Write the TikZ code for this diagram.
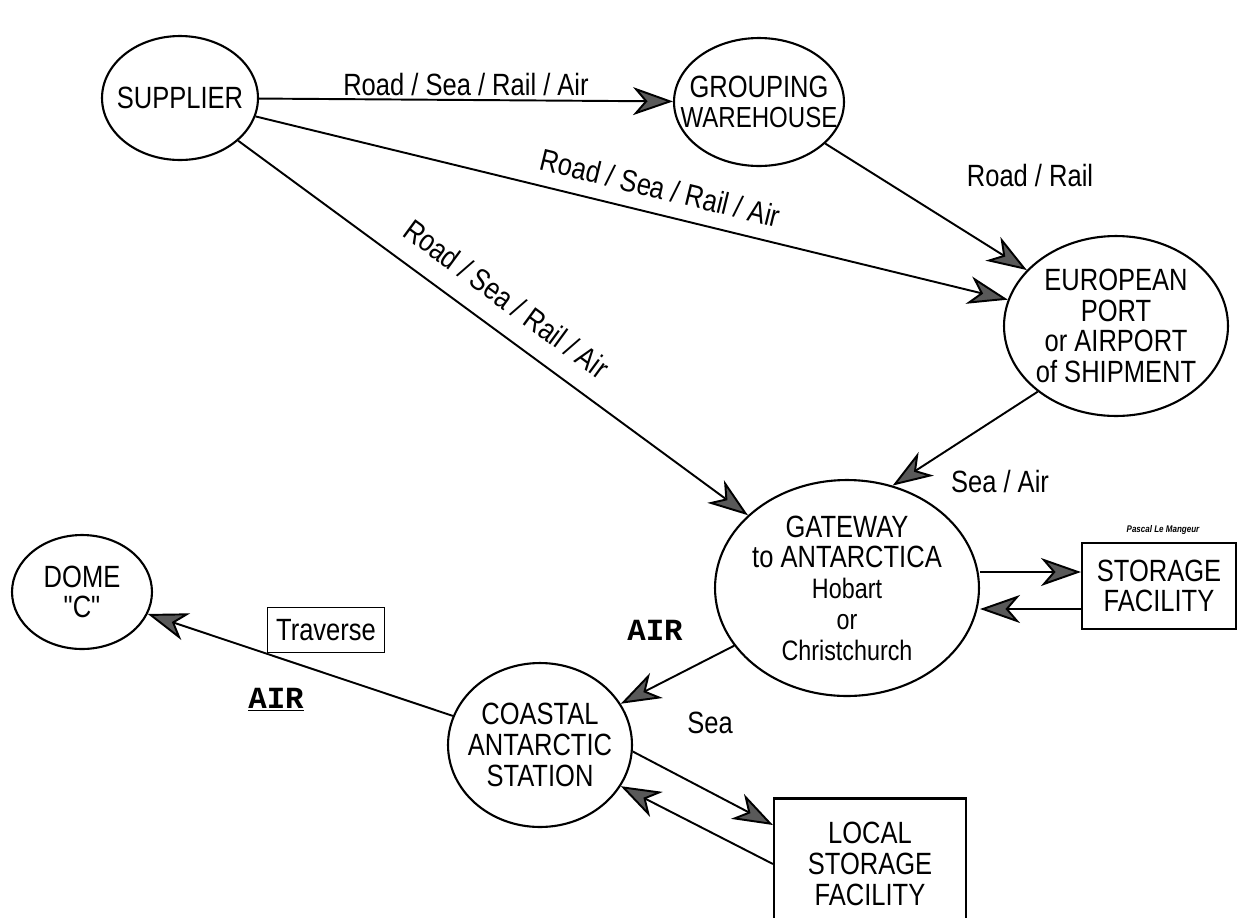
\documentclass[tikz,border=0pt]{standalone}
\usepackage{fontspec}
\setmainfont{Liberation Sans}[FakeStretch=0.83]
\setmonofont{Liberation Mono}
\usetikzlibrary{arrows.meta, shapes.geometric}
\newcommand{\lblsize}{\fontsize{17.5}{17.5}\selectfont}
\newcommand{\smsize}{\fontsize{16}{16}\selectfont}

\begin{document}
\begin{tikzpicture}[
  x=0.02cm, y=-0.02cm,
  place/.style={ellipse, draw=black, line width=1.2pt, inner sep=-0.8cm,
                align=center, font=\lblsize},
  store/.style={rectangle, draw=black, line width=1.2pt, align=center,
                font=\lblsize},
  lbl/.style={font=\lblsize, inner sep=2pt},
  code/.style={font=\ttfamily\bfseries\lblsize, inner sep=1pt},
  arr/.style={-{Stealth[length=0.8cm, width=0.56cm, inset=0.24cm, fill=black!65]},
              line width=1.1pt},
]
\useasboundingbox (0,0) rectangle (1238,917);
\clip (0,0) rectangle (1238,917);

% places
\node[place, minimum width=3.12cm, minimum height=2.48cm] (sup) at (180,98) {SUPPLIER};
\node[place, minimum width=3.4cm, minimum height=2.56cm] (grp) at (759,102)
     {GROUPING\\{\fontsize{16.5}{16.5}\selectfont WAREHOUSE}};
\node[place, minimum width=4.48cm, minimum height=3.6cm] (eur) at (1116,326)
     {EUROPEAN\\PORT\\or AIRPORT\\of SHIPMENT};
\node[place, minimum width=5.28cm, minimum height=4.32cm] (gw) at (847,588)
     {GATEWAY\\to ANTARCTICA\\{\smsize Hobart}\\{\smsize or}\\{\smsize Christchurch}};
\node[place, minimum width=3.68cm, minimum height=3.28cm] (coast) at (540,745)
     {COASTAL\\ANTARCTIC\\STATION};
\node[place, minimum width=2.8cm, minimum height=2.28cm] (dome) at (82,592)
     {DOME\\{\addfontfeatures{Ligatures=TeXOff}"C"}};

% storage
\node[store, minimum width=3.08cm, minimum height=1.72cm] (stor) at (1159,586) {STORAGE\\FACILITY};
\node[store, minimum width=3.84cm, minimum height=2.62cm] (loc) at (870,864)
     {LOCAL\\STORAGE\\FACILITY};
\node[font=\fontsize{5.5}{5.5}\selectfont\bfseries\itshape] (sig) at (1163,530) {Pascal Le Mangeur};

% routes
\draw[arr] (sup) -- node[lbl, above] (lsg) {Road / Sea / Rail / Air} (grp);
\draw[arr] (sup) -- node[lbl, sloped, above=6pt, pos=0.53] (lse) {Road / Sea / Rail / Air} (eur);
\draw[arr] (sup) -- node[lbl, sloped, above=9pt, pos=0.49] (lsw) {Road / Sea / Rail / Air} (gw);
\draw[arr] (grp) -- (eur);
\node[lbl] (lrr) at (1030,176) {Road / Rail};
\draw[arr] (eur.220) -- (gw.66);
\node[lbl] (lsa) at (1000,482) {Sea / Air};

\coordinate (su) at ([yshift=0.28cm]stor.west);
\coordinate (sd) at ([yshift=-0.46cm]stor.west);
\draw[arr] (su -| gw.east) -- (su);
\draw[arr] (sd) -- (sd -| gw.east);

\draw[arr] (gw) -- (coast);
\node[code] (lair) at (655,630) {AIR};
\node[lbl] (lsea) at (710,723) {Sea};

\draw[arr] (coast.-4) -- ([yshift=0.78cm]loc.west);
\draw[arr] (loc.west) -- (coast.-27);

\draw[arr] (coast) -- (dome);
\node[store, line width=1pt, minimum width=2.34cm, minimum height=0.9cm, inner sep=0pt]
     (trav) at (326,630) {Traverse};
\node[code] (lair2) at (276,700) {\underline{AIR}};
\end{tikzpicture}
\end{document}
